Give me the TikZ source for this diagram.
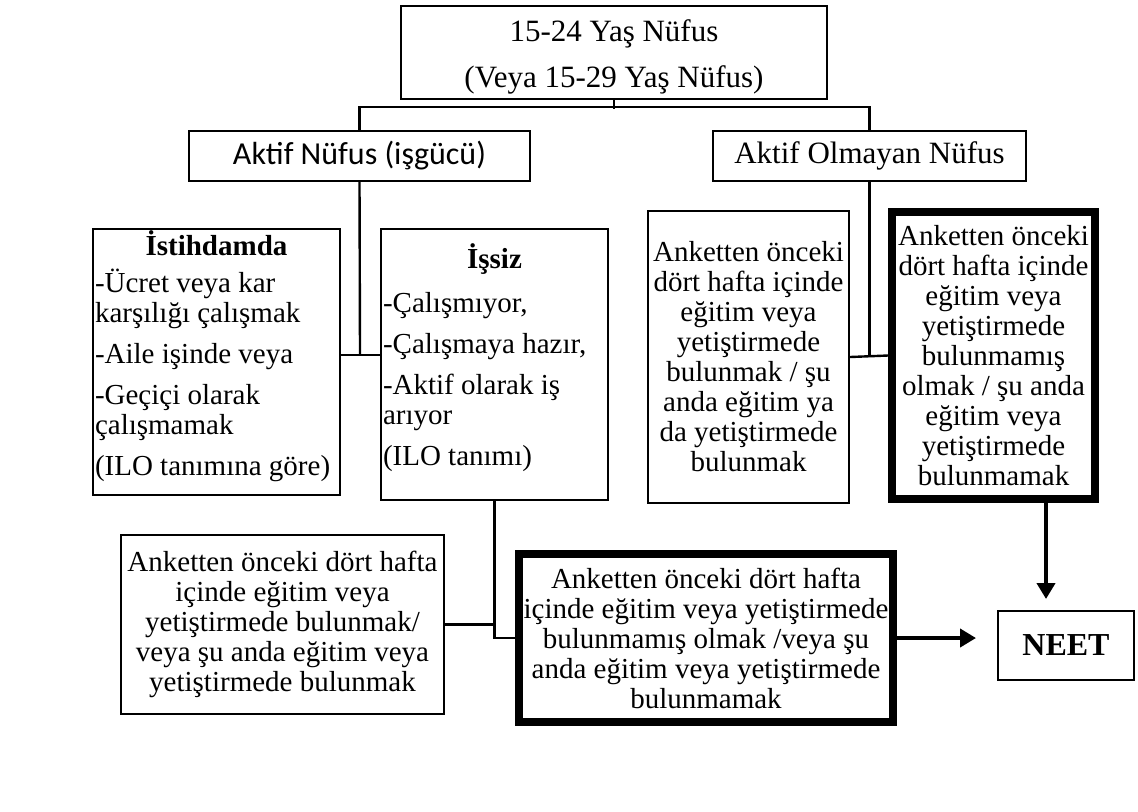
\documentclass[tikz,border=0pt]{standalone}
\usepackage{fontspec}
\setmainfont{Liberation Serif}
\newfontfamily\calibri{Carlito}
\usetikzlibrary{arrows.meta}
\tikzset{
  kutu/.style={draw, line width=1pt, inner sep=1pt, align=center, font=\fontsize{14.5}{15}\selectfont},
  kalin/.style={kutu, line width=4pt},
  baslik/.style={kutu, font=\fontsize{15.5}{23}\selectfont},
  hat/.style={line width=1.2pt},
  ok/.style={line width=2pt, -{Triangle[length=8pt,width=9pt]}}
}
\begin{document}
\begin{tikzpicture}[x=0.5pt,y=-0.5pt]
		\useasboundingbox (0,0) rectangle (1138,811);
		% Üst kutu
		\node[baslik, minimum width=213pt, minimum height=46.5pt] (yas) at (614,52.5) {\rule{0pt}{15.5pt}15-24 Yaş Nüfus\\(Veya 15-29 Yaş Nüfus)};
		% Aktif / aktif olmayan
		\node[kutu, font=\calibri\fontsize{16}{18}\selectfont, minimum width=170.5pt, minimum height=25pt] (aktif) at (359.5,156) {Aktif Nüfus (işgücü)};
		\node[baslik, minimum width=156.5pt, minimum height=25pt] (olmayan) at (869.5,156) {Aktif Olmayan Nüfus};
		% İstihdamda ve İşsiz
		\node[kutu, align=flush left, text width=121.5pt, minimum height=133pt] (istih) at (216.5,362)
			{\makebox[121.5pt]{\textbf{İstihdamda}}\\[3.5pt]-Ücret veya kar\\karşılığı çalışmak\\[5.5pt]-Aile işinde veya\\[5.5pt]-Geçiçi olarak\\çalışmamak\\[5.5pt](ILO tanımına göre)\rule[-8.5pt]{0pt}{0pt}};
		\node[kutu, align=flush left, text width=111.5pt, minimum height=135.5pt] (issiz) at (494.5,364.5)
			{\makebox[111.5pt]{\textbf{İşsiz}}\\[7pt]-Çalışmıyor,\\[5.5pt]-Çalışmaya hazır,\\[5.5pt]-Aktif olarak iş\\arıyor\\[5.5pt](ILO tanımı)\rule[-10pt]{0pt}{0pt}};
		% Eğitimde olan / olmayan
		\node[kutu, minimum width=100.5pt, minimum height=146pt] (anket1) at (748.5,357)
			{Anketten önceki\\dört hafta içinde\\eğitim veya\\yetiştirmede\\bulunmak / şu\\anda eğitim ya\\da yetiştirmede\\bulunmak};
		\node[kalin, minimum width=101.5pt, minimum height=143.5pt] (neet1) at (993.5,355.5)
			{Anketten önceki\\dört hafta içinde\\eğitim veya\\yetiştirmede\\bulunmamış\\olmak / şu anda\\eğitim veya\\yetiştirmede\\bulunmamak};
		\node[kutu, minimum width=161.5pt, minimum height=89.5pt] (anket2) at (282.5,624.5)
			{Anketten önceki dört hafta\\içinde eğitim veya\\yetiştirmede bulunmak/\\veya şu anda eğitim veya\\yetiştirmede bulunmak};
		\node[kalin, minimum width=187pt, minimum height=84pt] (neet2) at (706,638)
			{Anketten önceki dört hafta\\içinde eğitim veya yetiştirmede\\bulunmamış olmak /veya şu\\anda eğitim veya yetiştirmede\\bulunmamak};
		\node[baslik, font=\fontsize{16}{18}\bfseries, minimum width=68pt, minimum height=34.5pt] (neet) at (1066,645.5) {NEET};
		% Bağlantılar
		\coordinate (solbag) at (360,355);
		\coordinate (okbas) at (1046,503);
		\draw[hat] (yas.south) -- ++(0,9);
		\draw[hat] (aktif.north) -- ++(0,-23) -| (olmayan.north);
		\draw[hat] (aktif.south) -- (solbag);
		\draw[hat] (istih.east |- solbag) -- (issiz.west |- solbag);
		\draw[hat] (olmayan.south) -- (olmayan.south |- anket1.east);
		\draw[hat] (anket1.east) -- (neet1.west);
		\draw[hat] (issiz.south) |- (neet2.west);
		\draw[hat] (anket2.east) -- (anket2.east -| issiz.south);
		% Oklar
		\draw[ok, shorten >=10.5pt] (neet2.east) -- (neet2.east -| neet.west);
		\draw[ok, shorten >=5.5pt] (okbas) -- (okbas |- neet.north);
	\end{tikzpicture}
\end{document}
